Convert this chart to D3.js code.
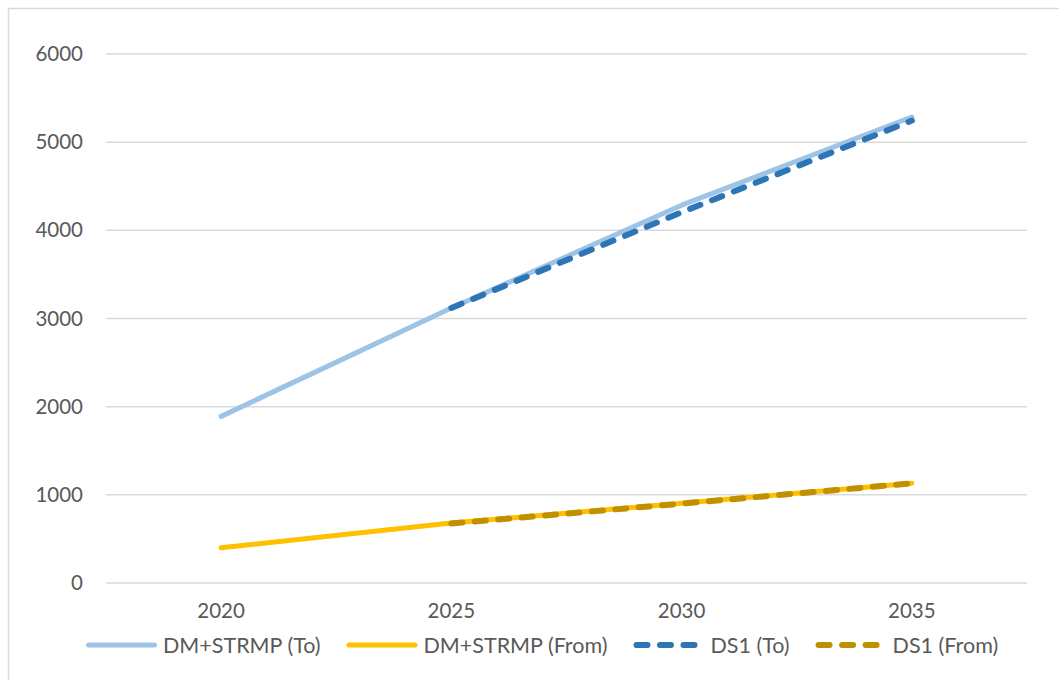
<!DOCTYPE html>
<html><head><meta charset="utf-8">
<script src="https://cdn.jsdelivr.net/npm/d3@7"></script>
<style>html,body{margin:0;padding:0;background:#fff;}svg{display:block;font-family:Lato,"Open Sans",sans-serif;}</style>
</head><body><svg id="c" width="1059" height="680"></svg>
<script>
const categories = ["2020","2025","2030","2035"];
const yTicks = [0,1000,2000,3000,4000,5000,6000];
const dmTo = [1890, 3120, 4285, 5285];
const dmFrom = [400, 680, 905, 1132];
const ds1To = [null, 3120, 4205, 5245];
const ds1From = [null, 675, 900, 1130];
const seriesNames = ["DM+STRMP (To)","DM+STRMP (From)","DS1 (To)","DS1 (From)"];
const seriesColors = ["#9DC3E6","#FFC000","#2E75B6","#BF9000"];
const seriesDashed = [false,false,true,true];
const seriesValues = [dmTo, dmFrom, ds1To, ds1From];

(function(){
const svg = d3.select("#c");
const W=1059,H=680;
const pL=106, pR=1027, pT=54, pB=583;
svg.append("rect").attr("x",8.5).attr("y",8.5).attr("width",W+20).attr("height",H+20)
  .attr("fill","#fff").attr("stroke","#d9d9d9").attr("stroke-width",1.5);

const x = d3.scaleBand().domain(categories).range([pL,pR]);
const y = d3.scaleLinear().domain([0,6000]).range([pB,pT]);

const grid = svg.append("g");
grid.selectAll("line").data(yTicks).join("line")
  .attr("x1",pL).attr("x2",pR).attr("y1",d=>y(d)).attr("y2",d=>y(d))
  .attr("stroke","#d9d9d9").attr("stroke-width",1.5);

const yAxis = d3.axisLeft(y).tickValues(yTicks).tickSize(0).tickPadding(0).tickFormat(d3.format("d"));
const ya = svg.append("g").attr("transform",`translate(${83},0)`).call(yAxis);
ya.select(".domain").remove();
ya.selectAll("text").attr("font-size",20.5).attr("fill","#595959").attr("font-family","Lato,sans-serif");

const xAxis = d3.axisBottom(x).tickSize(0).tickPadding(0);
const xa = svg.append("g").attr("transform",`translate(0,${603})`).call(xAxis);
xa.select(".domain").remove();
xa.selectAll("text").attr("font-size",20.5).attr("fill","#595959").attr("font-family","Lato,sans-serif");

const dash = "11,12.5";
const line = d3.line().defined(d=>d.v!=null).x(d=>x(d.c)+x.bandwidth()/2).y(d=>y(d.v));
seriesValues.forEach((vals,i)=>{
  const pts = categories.map((c,j)=>({c, v: vals[j]}));
  svg.append("path").datum(pts).attr("d",line).attr("fill","none")
    .attr("stroke",seriesColors[i]).attr("stroke-width",seriesDashed[i]?6:5)
    .attr("stroke-linecap","round").attr("stroke-linejoin","round")
    .attr("stroke-dasharray",seriesDashed[i]?dash:null);
});

const lg = svg.append("g");
let lx = 86; const ly = 645;
seriesNames.forEach((n,i)=>{
  const d = seriesDashed[i];
  const cap = d ? 3 : 2.5;
  const len = d ? 58 : 66;
  lg.append("line").attr("x1",lx+cap).attr("x2",lx+cap+len).attr("y1",ly).attr("y2",ly)
    .attr("stroke",seriesColors[i]).attr("stroke-width",d?6:5).attr("stroke-linecap","round")
    .attr("stroke-dasharray",d?dash:null);
  const tx = lx + 2*cap + len + (d ? 13 : 6);
  const t = lg.append("text").attr("x",tx).attr("y",ly).attr("dy","0.35em")
    .attr("font-size",21.5).attr("fill","#595959").text(n);
  const w = t.node().getComputedTextLength();
  lx = tx + w + 26;
});
})();
</script></body></html>
